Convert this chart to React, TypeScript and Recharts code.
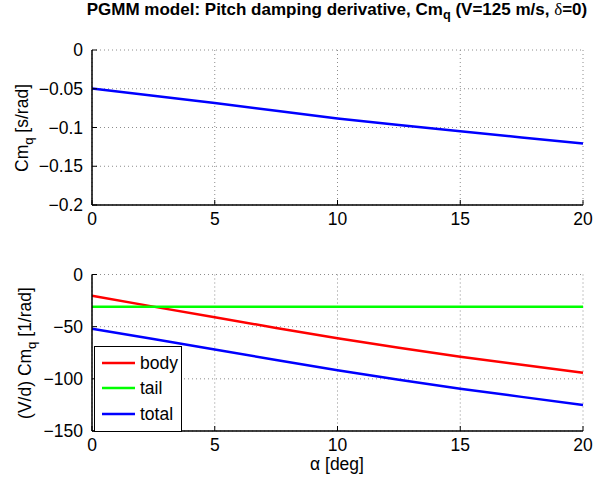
import { CartesianGrid, Legend, Line, LineChart, XAxis, YAxis } from "recharts";

// angle of attack [deg]
const ALPHA = [0, 2.5, 5, 7.5, 10, 12.5, 15, 17.5, 20];
// Cm_q [s/rad]
const CMQ = [-0.0497, -0.059, -0.0683, -0.0783, -0.0884, -0.0968, -0.1048, -0.1128, -0.1206];
// (V/d) Cm_q [1/rad]
const BODY = [-20.3, -30.8, -41.0, -51.2, -61.2, -70.2, -78.8, -86.6, -94.1];
const TAIL = [-30.8, -30.8, -30.8, -30.8, -30.8, -30.8, -30.8, -30.8, -30.8];
const TOTAL = [-52.0, -61.8, -71.8, -81.9, -91.7, -100.8, -109.4, -117.3, -125.0];

const X_TICKS = [0, 5, 10, 15, 20];
const TOP_Y_TICKS = [-0.2, -0.15, -0.1, -0.05, 0];
const BOT_Y_TICKS = [-150, -100, -50, 0];

const topData = ALPHA.map((a, i) => ({ alpha: a, cmq: CMQ[i] }));
const botData = ALPHA.map((a, i) => ({ alpha: a, body: BODY[i], tail: TAIL[i], total: TOTAL[i] }));

const FONT = '"Liberation Sans", Arial, Helvetica, sans-serif';
const FS = 17.5;
const TM = 8; // gap between axis and tick label
const TL = 5; // inward tick length
const GRID = "#8c8c8c";
const BOX = { stroke: "#000", strokeWidth: 1.5 };

const fmt = (v: number) => String(v).replace("-", "\u2212");

function BottomTick({ x, y, payload }: any) {
  return (
    <g>
      <line x1={x} x2={x} y1={y - TM} y2={y - TM - TL} stroke="#000" />
      <text x={x} y={y} dy="0.71em" textAnchor="middle" fontSize={FS} fontFamily={FONT} fill="#000">
        {fmt(payload.value)}
      </text>
    </g>
  );
}

function LeftTick({ x, y, payload }: any) {
  return (
    <g>
      <line x1={x + TM} x2={x + TM + TL} y1={y} y2={y} stroke="#000" />
      <text x={x - 1} y={y} dy="0.355em" textAnchor="end" fontSize={FS} fontFamily={FONT} fill="#000">
        {fmt(payload.value)}
      </text>
    </g>
  );
}

// mirrored box ticks (no labels)
const TopTick = ({ x, y }: any) => <line x1={x} x2={x} y1={y} y2={y + TL} stroke="#000" />;
const RightTick = ({ x, y }: any) => <line x1={x} x2={x - TL} y1={y} y2={y} stroke="#000" />;

function LegendBox({ payload }: any) {
  return (
    <div
      style={{
        border: "1.5px solid #000",
        background: "#fff",
        width: 86,
        height: 81,
        boxSizing: "content-box",
        paddingTop: 3,
        fontFamily: FONT,
        fontSize: FS,
      }}
    >
      {(payload || []).map((p: any) => (
        <div key={p.value} style={{ display: "flex", alignItems: "center", height: 25.5 }}>
          <svg width={45} height={10}>
            <line x1={7} x2={40} y1={5} y2={5} stroke={p.color} strokeWidth={2.5} />
          </svg>
          <span style={{ lineHeight: "20px" }}>{p.value}</span>
        </div>
      ))}
    </div>
  );
}

export default function App() {
  const label = { position: "absolute" as const, fontFamily: FONT, fontSize: FS, whiteSpace: "nowrap" as const, lineHeight: "20px" };
  const sub = { fontSize: "0.75em", position: "relative" as const, top: "0.35em" };
  return (
    <div style={{ position: "absolute", left: 0, top: 0, width: 604, height: 479, background: "#fff" }}>
      <div
        style={{ ...label, top: 0, left: 337, transform: "translateX(-50%)", fontWeight: "bold", fontSize: 17 }}
      >
        PGMM model: Pitch damping derivative, Cm<span style={sub}>q</span> (V=125 m/s,{" "}
        <span style={{ fontFamily: '"Liberation Serif", serif', fontWeight: "normal" }}>δ</span>=0)
      </div>

      <div style={{ position: "absolute", left: 0, top: 0 }}>
        <LineChart width={604} height={240} data={topData} margin={{ top: 50, right: 21, bottom: 5, left: 32 }}>
          <CartesianGrid stroke={GRID} strokeDasharray="1 3" />
          <XAxis dataKey="alpha" type="number" domain={[0, 20]} ticks={X_TICKS} interval={0} height={30}
            axisLine={BOX} tickLine={false} tickSize={0} tickMargin={TM} tick={<BottomTick />} />
          <XAxis xAxisId="top" orientation="top" dataKey="alpha" type="number" domain={[0, 20]} ticks={X_TICKS}
            interval={0} height={0} axisLine={BOX} tickLine={false} tickSize={0} tickMargin={0} tick={<TopTick />} />
          <YAxis type="number" domain={[-0.2, 0]} ticks={TOP_Y_TICKS} interval={0} width={60}
            axisLine={BOX} tickLine={false} tickSize={0} tickMargin={TM} tick={<LeftTick />} />
          <YAxis yAxisId="right" orientation="right" type="number" domain={[-0.2, 0]} ticks={TOP_Y_TICKS}
            interval={0} width={0} axisLine={BOX} tickLine={false} tickSize={0} tickMargin={0} tick={<RightTick />} />
          <Line dataKey="cmq" stroke="#0000ff" strokeWidth={2.5} dot={false} isAnimationActive={false} />
        </LineChart>
      </div>

      <div style={{ position: "absolute", left: 0, top: 240 }}>
        <LineChart width={604} height={239} data={botData} margin={{ top: 34.5, right: 21, bottom: 18, left: 32 }}>
          <CartesianGrid stroke={GRID} strokeDasharray="1 3" />
          <XAxis dataKey="alpha" type="number" domain={[0, 20]} ticks={X_TICKS} interval={0} height={30}
            axisLine={BOX} tickLine={false} tickSize={0} tickMargin={TM} tick={<BottomTick />} />
          <XAxis xAxisId="top" orientation="top" dataKey="alpha" type="number" domain={[0, 20]} ticks={X_TICKS}
            interval={0} height={0} axisLine={BOX} tickLine={false} tickSize={0} tickMargin={0} tick={<TopTick />} />
          <YAxis type="number" domain={[-150, 0]} ticks={BOT_Y_TICKS} interval={0} width={60}
            axisLine={BOX} tickLine={false} tickSize={0} tickMargin={TM} tick={<LeftTick />} />
          <YAxis yAxisId="right" orientation="right" type="number" domain={[-150, 0]} ticks={BOT_Y_TICKS}
            interval={0} width={0} axisLine={BOX} tickLine={false} tickSize={0} tickMargin={0} tick={<RightTick />} />
          <Line dataKey="body" name="body" stroke="#ff0000" strokeWidth={2.5} dot={false} isAnimationActive={false} />
          <Line dataKey="tail" name="tail" stroke="#00ff00" strokeWidth={2.5} dot={false} isAnimationActive={false} />
          <Line dataKey="total" name="total" stroke="#0000ff" strokeWidth={2.5} dot={false} isAnimationActive={false} />
          <Legend layout="horizontal" verticalAlign="middle" align="center" content={<LegendBox />}
            wrapperStyle={{ position: "absolute", left: 94, top: 106, width: "auto" }} />
        </LineChart>
      </div>

      <div style={{ ...label, left: 22.5, top: 128, transform: "translate(-50%, -50%) rotate(-90deg)" }}>
        Cm<span style={sub}>q</span> [s/rad]
      </div>
      <div style={{ ...label, left: 25.5, top: 352.5, transform: "translate(-50%, -50%) rotate(-90deg)" }}>
        (V/d) Cm<span style={sub}>q</span> [1/rad]
      </div>
      <div style={{ ...label, left: 337, top: 454, transform: "translateX(-50%)" }}>α [deg]</div>
    </div>
  );
}
